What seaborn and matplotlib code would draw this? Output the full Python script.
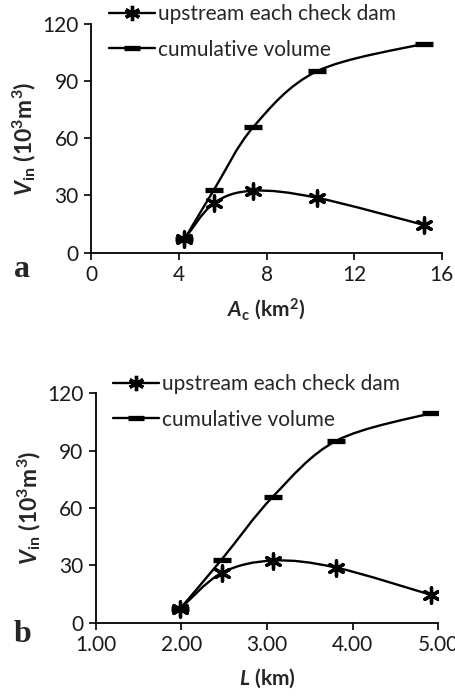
import numpy as np
import matplotlib
matplotlib.use("Agg")
import matplotlib.pyplot as plt
from matplotlib.path import Path
from matplotlib.patches import PathPatch
from matplotlib.lines import Line2D
import seaborn as sns

# data
area_km2 = [4.25, 5.6, 7.4, 10.3, 15.2]        # A_c (km2), panel a
length_km = [1.98, 2.47, 3.07, 3.81, 4.92]     # L (km), panel b
upstream = [7.0, 26.0, 32.5, 28.8, 14.5]       # 10^3 m3
cumulative = [7.0, 33.0, 66.0, 95.2, 109.7]    # 10^3 m3

legend_labels = ["upstream each check dam", "cumulative volume"]
y_ticks = [0, 30, 60, 90, 120]
a_ticks = [0, 4, 8, 12, 16]
b_ticks = [1.0, 2.0, 3.0, 4.0, 5.0]

sns.set_theme(style="ticks")
plt.rcParams["font.family"] = ["Lato", "DejaVu Sans"]
plt.rcParams["mathtext.fontset"] = "custom"
plt.rcParams["mathtext.rm"] = "Lato"
plt.rcParams["mathtext.it"] = "Lato:italic"
plt.rcParams["mathtext.bf"] = "Lato:bold"
plt.rcParams["mathtext.bfit"] = "Lato:bold:italic"

ASTER = (6, 2, 0)


def smooth_path(ax, xs, ys):
    # excel-like smoothed line: bezier segments with catmull-rom control points
    # built in display space so the tangents look right
    pts = ax.transData.transform(np.column_stack([xs, ys]))
    n = len(pts)
    verts = [pts[0]]
    codes = [Path.MOVETO]
    for i in range(n - 1):
        p0 = pts[i - 1] if i > 0 else pts[i]
        p1 = pts[i]
        p2 = pts[i + 1]
        p3 = pts[i + 2] if i + 2 < n else pts[i + 1]
        c1 = p1 + (p2 - p0) / 6.0
        c2 = p2 - (p3 - p1) / 6.0
        verts += [c1, c2, p2]
        codes += [Path.CURVE4] * 3
    verts = ax.transData.inverted().transform(np.array(verts))
    ax.add_patch(PathPatch(Path(verts, codes), fill=False, lw=1.7,
                           ec="black", zorder=2))


def panel(ax, xs, xticks, xfmt, xlim, xlabel, letter, letter_pos, leg_pos):
    ax.set_xlim(*xlim)
    ax.set_ylim(0, 120)
    sns.scatterplot(x=xs, y=cumulative, ax=ax, marker="_", s=160,
                    color="black", linewidth=3.8, zorder=3, legend=False)
    sns.scatterplot(x=xs, y=upstream, ax=ax, marker=ASTER, s=120,
                    color="black", edgecolor="black", linewidth=2.4,
                    zorder=3, legend=False)
    ax.figure.canvas.draw()
    smooth_path(ax, xs, cumulative)
    smooth_path(ax, xs, upstream)

    ax.set_xticks(xticks)
    ax.set_xticklabels([xfmt.format(t) for t in xticks])
    ax.set_yticks(y_ticks)
    ax.tick_params(labelsize=15, length=5, width=1.2, color="black",
                   labelcolor="#1a1a1a", pad=4)
    for s in ["left", "bottom"]:
        ax.spines[s].set_linewidth(1.3)
        ax.spines[s].set_color("black")
    sns.despine(ax=ax)
    ax.set_xlabel(xlabel, fontsize=15, labelpad=8)
    ax.set_ylabel(r"$\mathbfit{V}_{\mathbf{in}}\ \mathbf{(10^3m^3)}$",
                  fontsize=16.5, labelpad=3)

    handles = [
        Line2D([], [], color="black", lw=1.7, marker=ASTER, ms=11, mew=2.4),
        Line2D([], [], color="black", lw=1.7, marker="_", ms=12, mew=3.8),
    ]
    ax.legend(handles, legend_labels, loc="upper left",
              bbox_to_anchor=leg_pos, bbox_transform=ax.figure.transFigure,
              frameon=False, fontsize=15, handlelength=2.2,
              handletextpad=0.15, labelspacing=0.75, borderpad=0,
              borderaxespad=0)
    ax.figure.text(letter_pos[0], letter_pos[1], letter, fontsize=23,
                   fontweight="bold", family="Liberation Serif",
                   ha="left", va="center")


fig = plt.figure(figsize=(4.55, 6.97), dpi=100)
ax_a = fig.add_axes([0.2007, 0.6375, 0.7703, 0.3281])
ax_b = fig.add_axes([0.2103, 0.1066, 0.7530, 0.3291])

panel(ax_a, area_km2, a_ticks, "{:g}", (0, 16),
      r"$\mathbfit{A}_{\mathbf{c}}\ \mathbf{(km^2)}$", "a",
      (0.03, 1 - 269 / 697), (0.240, 1 - 4 / 697))
panel(ax_b, length_km, b_ticks, "{:.2f}", (1, 5),
      r"$\mathbfit{L}\ \mathbf{(km)}$", "b",
      (0.03, 1 - 634 / 697), (0.249, 1 - 374 / 697))

fig.savefig("out.png", dpi=100)
